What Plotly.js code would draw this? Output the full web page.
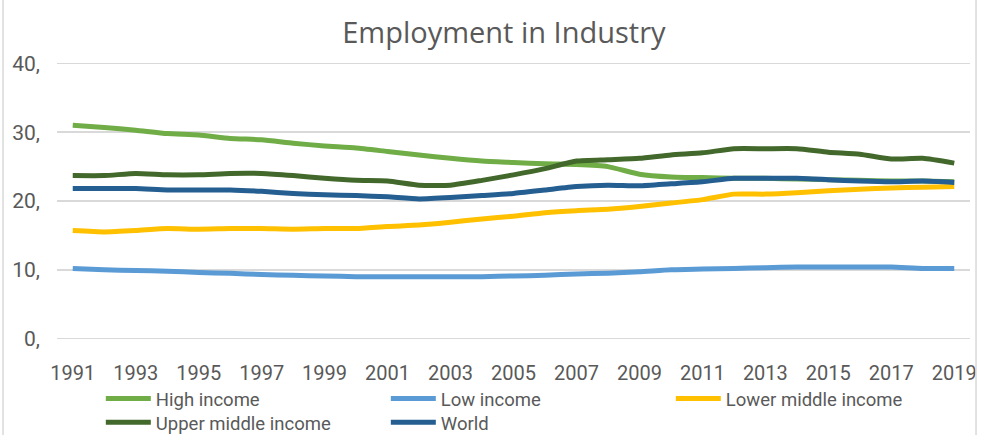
<!DOCTYPE html>
<html>
<head>
<meta charset="utf-8">
<script src="https://cdn.plot.ly/plotly-3.0.1.min.js"></script>
<style>html,body{margin:0;padding:0;background:#fff;}#chart{width:988px;height:435px;}</style>
</head>
<body>
<div id="chart"></div>
<script>
const years = [1991,1992,1993,1994,1995,1996,1997,1998,1999,2000,2001,2002,2003,2004,2005,2006,2007,2008,2009,2010,2011,2012,2013,2014,2015,2016,2017,2018,2019];
const highIncome = [31.0,30.7,30.3,29.8,29.6,29.1,28.9,28.4,28.0,27.7,27.2,26.7,26.2,25.8,25.6,25.4,25.3,25.0,23.9,23.5,23.4,23.3,23.3,23.2,23.1,23.0,22.9,22.9,22.8];
const lowIncome = [10.2,10.0,9.9,9.8,9.6,9.5,9.3,9.2,9.1,9.0,9.0,9.0,9.0,9.0,9.1,9.2,9.4,9.5,9.7,10.0,10.1,10.2,10.3,10.4,10.4,10.4,10.4,10.2,10.2];
const lowerMiddle = [15.7,15.5,15.7,16.0,15.9,16.0,16.0,15.9,16.0,16.0,16.3,16.5,16.9,17.4,17.8,18.3,18.6,18.8,19.2,19.7,20.2,21.0,21.0,21.2,21.5,21.7,21.9,22.0,22.1];
const upperMiddle = [23.7,23.7,24.0,23.8,23.8,24.0,24.0,23.7,23.3,23.0,22.9,22.3,22.3,23.0,23.8,24.7,25.8,26.0,26.2,26.7,27.0,27.6,27.6,27.6,27.1,26.8,26.1,26.2,25.5];
const world = [21.8,21.8,21.8,21.6,21.6,21.6,21.4,21.1,20.9,20.8,20.6,20.3,20.5,20.8,21.1,21.6,22.1,22.3,22.2,22.5,22.8,23.3,23.3,23.3,23.1,22.9,22.8,22.9,22.7];
const xTickYears = [1991,1993,1995,1997,1999,2001,2003,2005,2007,2009,2011,2013,2015,2017,2019];
const yTickVals = [0,10,20,30,40];
const yTickText = ["0,","10,","20,","30,","40,"];

const FONT = "Roboto, Open Sans, sans-serif";
const GREY = "#595959";

function tr(name, y, color, legend, rank) {
  return {x: years, y: y, name: name, type: "scatter", mode: "lines",
    line: {color: color, width: 5, shape: "spline", smoothing: 0.5},
    legend: legend, legendrank: rank, hoverinfo: "skip"};
}
const hi = tr("High income", highIncome, "#70AD47", "legend", 1);
const li = tr("Low income", lowIncome, "#5B9BD5", "legend", 2);
const lmi = tr("Lower middle income", lowerMiddle, "#FFC000", "legend", 3);
const umi = tr("Upper middle income", upperMiddle, "#43682B", "legend2", 4);
const wld = tr("World", world, "#255E91", "legend2", 5);
// drawing order: world drawn above high income as in the reference
const order = [li, lmi, hi, umi, wld];

const legendBase = {orientation: "h", x: 0.048, xanchor: "left", yanchor: "middle",
  entrywidth: 225, entrywidthmode: "pixels", font: {family: FONT, size: 18.5, color: GREY},
  bgcolor: "rgba(0,0,0,0)", traceorder: "normal", itemwidth: 45, tracegroupgap: 0};

const layout = {
  width: 988, height: 435,
  margin: {l: 57, r: 18, t: 61, b: 94, autoexpand: false},
  paper_bgcolor: "#fff", plot_bgcolor: "#fff",
  font: {family: FONT, color: GREY, size: 19},
  title: {text: "Employment in Industry", font: {family: "Open Sans, sans-serif", size: 29, color: GREY},
    x: 0.51, xref: "container", xanchor: "center", y: 0.925, yref: "container", yanchor: "middle"},
  xaxis: {range: [1990.5, 2019.5], tickvals: xTickYears, ticktext: xTickYears.map(String),
    showgrid: false, zeroline: false, showline: false, ticks: "", ticklabelstandoff: 18,
    tickfont: {family: FONT, size: 20, color: GREY}, fixedrange: true},
  yaxis: {range: [-0.35, 40.35], tickvals: yTickVals, ticktext: yTickText, showgrid: true,
    gridcolor: "#d9d9d9", gridwidth: 1.5, zeroline: false, showline: false, ticks: "",
    ticklabelstandoff: 16, tickfont: {family: FONT, size: 21, color: GREY}, fixedrange: true},
  legend: Object.assign({}, legendBase, {y: -0.207}),
  legend2: Object.assign({}, legendBase, {y: -0.292}),
  shapes: [
    {type: "line", xref: "paper", yref: "paper", x0: -0.0591, x1: -0.0591, y0: -0.35, y1: 1.23, line: {color: "#d9d9d9", width: 1.5}},
    {type: "line", xref: "paper", yref: "paper", x0: 1.0066, x1: 1.0066, y0: -0.35, y1: 1.23, line: {color: "#d9d9d9", width: 1.5}}
  ],
  showlegend: true
};
Plotly.newPlot("chart", order, layout, {staticPlot: true, displayModeBar: false});
</script>
</body>
</html>
